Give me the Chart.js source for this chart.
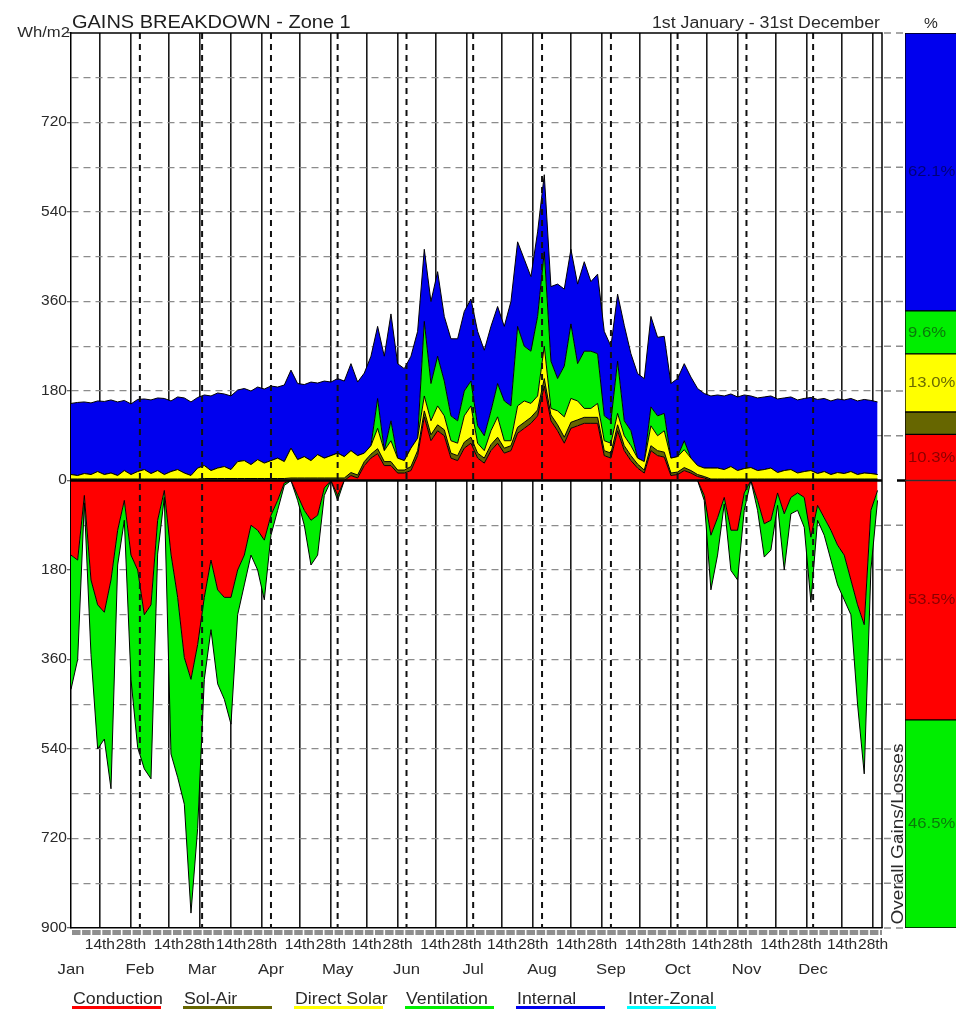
<!DOCTYPE html>
<html>
<head>
<meta charset="utf-8">
<title>Gains Breakdown - Zone 1</title>
<script src="https://cdn.jsdelivr.net/npm/chart.js@4.4.1/dist/chart.umd.min.js"></script>
<style>
  html, body { margin: 0; padding: 0; background: #fff; overflow: hidden; }
  #wrap { position: relative; width: 956px; height: 1009px; overflow: hidden; background: #fff; }
  #main { position: absolute; left: 0; top: 0; width: 956px; height: 1009px; }
  #share { position: absolute; left: 905px; top: 33px; width: 80px; height: 895px; }
</style>
</head>
<body>
<div id="wrap">
  <canvas id="main" width="956" height="1009"></canvas>
  <canvas id="share" width="80" height="895"></canvas>
</div>
<script>
// ---- Day of year (0 = 1st January), sampled every third day ----
const days = [0,3,6,9,12,15,18,21,24,27,30,33,36,39,42,45,48,51,54,57,
  60,63,66,69,72,75,78,81,84,87,90,93,96,99,102,105,108,111,114,117,
  120,123,126,129,132,135,138,141,144,147,150,153,156,159,162,165,168,171,174,177,
  180,183,186,189,192,195,198,201,204,207,210,213,216,219,222,225,228,231,234,237,
  240,243,246,249,252,255,258,261,264,267,270,273,276,279,282,285,288,291,294,297,
  300,303,306,309,312,315,318,321,324,327,330,333,336,339,342,345,348,351,354,357,
  360,363];

// ---- Gains (Wh/m2), bottom of the stack first ----
const conduction = [0,0,0,0,0,0,0,0,0,0, 0,0,0,0,0,0,0,0,0,0,
  0,0,0,0,0,0,0,0,0,0, 0,0,0,0,0,0,0,0,0,0,
  0,0,10,5,30,45,54,30,30,15, 15,20,50,128,80,100,90,45,40,65,
  75,45,35,60,75,55,60,95,105,115, 130,190,120,100,75,105,110,115,115,115,
  50,45,100,60,40,25,15,60,50,47, 10,12,20,15,8,5,0,0,0,0,
  0,0,0,0,0,0,0,0,0,0, 0,0,0,0,0,0,0,0,0,0,
  0,0];
const solAir = [3,3,3,3,3,3,3,3,3,3, 3,3,3,3,3,3,3,3,3,3,
  4,4,4,4,4,4,4,4,4,4, 4,4,4,5,5,5,5,5,5,5,
  5,5,6,6,8,8,10,8,8,6, 6,8,10,12,12,12,12,10,10,12,
  12,10,10,12,12,10,10,12,12,12, 12,15,12,12,12,12,12,12,12,12,
  10,10,12,10,10,8,6,10,10,10, 5,5,6,5,4,3,3,3,3,3,
  3,3,3,3,3,3,3,3,3,3, 3,3,3,3,3,3,3,3,3,3,
  3,3];
const directSolar = [9,7,11,9,15,9,12,7,17,9, 15,19,11,17,9,15,19,12,7,22,
  26,16,21,24,18,34,36,28,38,31, 36,41,34,60,37,43,35,47,40,45,
  50,43,44,39,17,17,41,22,42,24, 19,37,25,30,28,38,28,25,25,53,
  63,20,15,28,41,15,10,43,43,28, 28,65,13,28,41,48,38,18,18,28,
  20,20,23,20,20,12,17,40,30,43, 30,31,36,25,18,17,22,22,19,25,
  17,21,23,17,19,22,13,17,19,12, 15,17,11,15,9,13,11,15,9,12,
  11,9];
const ventilation = [0,0,0,0,0,0,0,0,0,0, 0,0,0,0,0,0,0,0,0,0,
  0,0,0,0,0,0,0,0,0,0, 0,0,0,0,0,0,0,0,0,0,
  0,0,0,0,0,0,60,0,40,0, 0,0,0,150,75,100,70,50,45,50,
  50,35,30,40,67,80,70,160,110,105, 160,190,95,65,102,150,75,115,115,100,
  50,45,105,30,30,0,0,38,40,35, 0,0,18,0,0,0,0,0,0,0,
  0,0,0,0,0,0,0,0,0,0, 0,0,0,0,0,0,0,0,0,0,
  0,0];
const internal = [143,147,144,144,142,147,147,148,141,142, 145,142,148,146,153,142,146,151,148,142,
  142,150,151,146,148,144,145,148,146,149, 150,143,154,157,153,145,158,144,155,148,
  150,152,175,148,161,180,145,190,215,190, 185,185,215,145,165,170,130,155,165,160,
  165,190,172,170,155,150,210,170,175,150, 170,155,150,190,155,150,160,180,140,160,
  170,150,135,192,155,170,167,182,158,155, 150,157,155,163,155,150,145,147,148,146,
  148,148,144,146,146,145,148,146,146,147, 147,147,149,147,148,148,148,147,148,148,
  147,146];
const interZonal = [];

// ---- Losses (Wh/m2, negative) ----
const conductionLoss = [-150,-160,-30,-200,-250,-265,-200,-100,-40,-150, -180,-270,-250,-80,-20,-148,-235,-356,-400,-330,
  -235,-160,-220,-235,-235,-180,-150,-90,-100,-120, -70,-40,-5,0,-30,-60,-80,-70,-15,0,
  -30,0,0,0,0,0,0,0,0,0, 0,0,0,0,0,0,0,0,0,0,
  0,0,0,0,0,0,0,0,0,0, 0,0,0,0,0,0,0,0,0,0,
  0,0,0,0,0,0,0,0,0,0, 0,0,0,0,0,-30,-110,-75,-34,-100,
  -100,-25,0,-40,-87,-80,-25,-67,-34,-25, -34,-114,-50,-75,-100,-130,-150,-200,-250,-290,
  -60,-20];
const ventilationLoss = [-270,-200,-15,-150,-290,-255,-420,-70,-40,-250, -357,-310,-350,-68,-14,-402,-362,-295,-470,-370,
  -165,-140,-189,-205,-255,-90,-60,-60,-80,-120, -40,-20,-5,0,-10,-30,-90,-80,-15,0,
  -10,0,0,0,0,0,0,0,0,0, 0,0,0,0,0,0,0,0,0,0,
  0,0,0,0,0,0,0,0,0,0, 0,0,0,0,0,0,0,0,0,0,
  0,0,0,0,0,0,0,0,0,0, 0,0,0,0,0,-10,-110,-75,-13,-81,
  -100,-35,0,-20,-67,-60,-25,-113,-33,-35, -60,-131,-30,-35,-60,-80,-90,-70,-200,-300,
  -120,-20];

// ---- Overall shares (%) ----
const seriesNames = ['Conduction', 'Sol-Air', 'Direct Solar', 'Ventilation', 'Internal', 'Inter-Zonal'];
const gainShare = [10.3, 5.0, 13.0, 9.6, 62.1, 0];
const lossShare = [53.5, 0, 0, 46.5, 0, 0];

// ---- Axis ticks ----
const monthNames = ['Jan','Feb','Mar','Apr','May','Jun','Jul','Aug','Sep','Oct','Nov','Dec'];
const monthStartDays = [0,31,59,90,120,151,181,212,243,273,304,334];
const day14th = [13,44,72,103,133,164,194,225,256,286,317,347];
const day28th = [27,58,86,117,147,178,208,239,270,300,331,361];
const yLabelValues = [900,720,540,360,180,0,-180,-360,-540,-720,-900];
const yTopLabel = 'Wh/m2';

// ---- Styling ----
const seriesColors = ['#ff0000', '#666600', '#ffff00', '#00ee00', '#0000ee', '#00ffff'];
const shareTextColors = ['#8a0000', '#333300', '#6b6b00', '#0a7a0a', '#00007a', '#007a7a'];
const FONT = '"Liberation Sans", Arial, sans-serif';
const TEXT = '#2a2a2a';
const STRETCH = 1.11;

function stretchText(ctx, text, x, y, o) {
  ctx.save();
  ctx.translate(x, y);
  if (o.rotate) ctx.rotate(o.rotate);
  ctx.scale(o.sx || STRETCH, 1);
  ctx.font = o.font;
  ctx.fillStyle = o.color || TEXT;
  ctx.textAlign = o.align || 'left';
  ctx.textBaseline = o.baseline || 'alphabetic';
  ctx.fillText(text, 0, 0);
  ctx.restore();
}

const gridDays = monthStartDays.concat(day14th, day28th).sort((a, b) => a - b);

// Month-start dashed verticals, drawn over the areas
const decor = {
  id: 'decor',
  afterDatasetsDraw(chart) {
    const { ctx, chartArea: a, scales: { x } } = chart;
    ctx.save();
    ctx.strokeStyle = '#111';
    ctx.lineWidth = 2;
    ctx.setLineDash([6, 5]);
    monthStartDays.forEach(d => {
      if (d === 0) return;
      const px = x.getPixelForValue(d);
      ctx.beginPath();
      ctx.moveTo(px, a.top);
      ctx.lineTo(px, a.bottom);
      ctx.stroke();
    });
    ctx.restore();
  },
  afterDraw(chart) {
    const { ctx, chartArea: a, scales: { x, y } } = chart;
    ctx.save();

    // grid extension towards the share column
    ctx.strokeStyle = '#8c8c8c';
    ctx.lineWidth = 1.3;
    ctx.setLineDash([7, 5]);
    y.ticks.forEach(t => {
      if (t.value === 0) return;
      const py = y.getPixelForValue(t.value);
      ctx.beginPath();
      ctx.moveTo(a.right + 2, py);
      ctx.lineTo(904, py);
      ctx.stroke();
    });
    ctx.setLineDash([]);

    // zero line
    const y0 = y.getPixelForValue(0);
    ctx.strokeStyle = '#000';
    ctx.lineWidth = 2.5;
    ctx.beginPath();
    ctx.moveTo(a.left, y0);
    ctx.lineTo(a.right, y0);
    ctx.moveTo(897, y0);
    ctx.lineTo(905, y0);
    ctx.stroke();

    // frame top / right
    ctx.lineWidth = 1.5;
    ctx.beginPath();
    ctx.moveTo(a.left, a.top);
    ctx.lineTo(a.right, a.top);
    ctx.lineTo(a.right, a.bottom);
    ctx.stroke();

    // day strip under the axis
    ctx.strokeStyle = '#8f8f8f';
    ctx.lineWidth = 5;
    ctx.setLineDash([8.5, 1.6]);
    ctx.beginPath();
    ctx.moveTo(a.left + 1, a.bottom + 4.5);
    ctx.lineTo(a.right, a.bottom + 4.5);
    ctx.stroke();
    ctx.setLineDash([]);
    ctx.restore();

    // y labels
    yLabelValues.forEach(v => {
      const py = y.getPixelForValue(v);
      if (v === 900) {
        stretchText(ctx, yTopLabel, a.left - 1, py, { font: '15px ' + FONT, align: 'right', baseline: 'middle' });
      } else {
        stretchText(ctx, String(Math.abs(v)), a.left - 4, py, { font: '14px ' + FONT, align: 'right', baseline: 'middle' });
      }
    });

    // x labels
    day14th.forEach(d => stretchText(ctx, '14th', x.getPixelForValue(d), a.bottom + 17, { font: '14px ' + FONT, align: 'center', baseline: 'middle' }));
    day28th.forEach(d => stretchText(ctx, '28th', x.getPixelForValue(d), a.bottom + 17, { font: '14px ' + FONT, align: 'center', baseline: 'middle' }));
    monthStartDays.forEach((d, i) => stretchText(ctx, monthNames[i], x.getPixelForValue(d), a.bottom + 42, { font: '15px ' + FONT, align: 'center', baseline: 'middle' }));

    // headings
    stretchText(ctx, 'GAINS BREAKDOWN - Zone 1', a.left + 1, 28, { font: '18px ' + FONT, color: '#1e1e1e' });
    stretchText(ctx, '1st January - 31st December', a.right - 2, 28, { font: '16px ' + FONT, align: 'right' });
    stretchText(ctx, '%', 931, 28, { font: '14px ' + FONT, align: 'center' });

    // vertical caption beside the share column
    stretchText(ctx, 'Overall Gains/Losses', 898, 834, { font: '17px ' + FONT, align: 'center', baseline: 'middle', rotate: -Math.PI / 2, sx: 1.12 });

    // legend with coloured underline
    seriesNames.forEach((name, i) => {
      const lx = 73 + i * 111;
      stretchText(ctx, name, lx, 1004, { font: '16px ' + FONT });
      ctx.fillStyle = seriesColors[i];
      ctx.fillRect(lx - 1, 1006, 89, 3);
    });
  }
};

const lineBase = { borderColor: '#000', borderWidth: 1, pointRadius: 0, tension: 0 };

new Chart(document.getElementById('main'), {
  type: 'line',
  data: {
    labels: days,
    datasets: [
      { ...lineBase, label: seriesNames[0], data: conduction, backgroundColor: seriesColors[0], fill: 'origin', stack: 'gains' },
      { ...lineBase, label: seriesNames[1], data: solAir, backgroundColor: seriesColors[1], fill: '-1', stack: 'gains' },
      { ...lineBase, label: seriesNames[2], data: directSolar, backgroundColor: seriesColors[2], fill: '-1', stack: 'gains' },
      { ...lineBase, label: seriesNames[3], data: ventilation, backgroundColor: seriesColors[3], fill: '-1', stack: 'gains' },
      { ...lineBase, label: seriesNames[4], data: internal, backgroundColor: seriesColors[4], fill: '-1', stack: 'gains' },
      { ...lineBase, label: seriesNames[5], data: interZonal, backgroundColor: seriesColors[5], fill: false, stack: 'gains' },
      { ...lineBase, label: seriesNames[0], data: conductionLoss, backgroundColor: seriesColors[0], fill: 'origin', stack: 'losses' },
      { ...lineBase, label: seriesNames[3], data: ventilationLoss, backgroundColor: seriesColors[3], fill: '-1', stack: 'losses' }
    ]
  },
  options: {
    responsive: false,
    animation: false,
    devicePixelRatio: 1,
    layout: { padding: { left: 0, right: 74, top: 33, bottom: 41 } },
    plugins: { legend: { display: false }, tooltip: { enabled: false }, filler: { propagate: false } },
    scales: {
      x: {
        type: 'linear', min: 0, max: 365, z: 1,
        afterBuildTicks: s => { s.ticks = gridDays.map(v => ({ value: v })); },
        afterFit: s => { s.height = 40; },
        ticks: { display: false },
        grid: {
          drawTicks: false,
          lineWidth: 1.6,
          color: c => (c.tick && monthStartDays.includes(c.tick.value)) ? 'rgba(0,0,0,0)' : '#1a1a1a'
        },
        border: { color: '#000', width: 1.5 }
      },
      y: {
        min: -900, max: 900, stacked: true, z: 1,
        afterFit: s => { s.width = 71; },
        ticks: { display: false, stepSize: 90 },
        grid: {
          lineWidth: 1.3,
          tickLength: 4,
          color: c => (c.tick && (c.tick.value === 0 || Math.abs(c.tick.value) === 900)) ? 'rgba(0,0,0,0)' : '#8c8c8c',
          tickColor: c => (c.tick && c.tick.value % 180 === 0) ? '#666' : 'rgba(0,0,0,0)'
        },
        border: { color: '#000', width: 1.5, dash: [7, 5] }
      }
    }
  },
  plugins: [decor]
});

// ---- Share column ----
const shareLabels = {
  id: 'shareLabels',
  afterDatasetsDraw(chart) {
    const ctx = chart.ctx;
    chart.data.datasets.forEach((ds, i) => {
      const el = chart.getDatasetMeta(i).data[0];
      if (!el) return;
      const h = Math.abs(el.base - el.y);
      if (h < 30) return;
      stretchText(ctx, Math.abs(ds.data[0]).toFixed(1) + '%', 3, (el.y + el.base) / 2,
        { font: '15px ' + FONT, color: ds.textColor, baseline: 'middle' });
    });
  }
};

const shareSets = [];
gainShare.forEach((v, i) => { if (v) shareSets.push({ label: seriesNames[i], data: [v], backgroundColor: seriesColors[i], textColor: shareTextColors[i] }); });
lossShare.forEach((v, i) => { if (v) shareSets.push({ label: seriesNames[i], data: [-v], backgroundColor: seriesColors[i], textColor: shareTextColors[i] }); });

new Chart(document.getElementById('share'), {
  type: 'bar',
  data: {
    labels: ['%'],
    datasets: shareSets.map(s => ({ ...s, borderColor: '#000', borderWidth: 1, borderSkipped: false, stack: 'share', barPercentage: 1, categoryPercentage: 1 }))
  },
  options: {
    responsive: false,
    animation: false,
    devicePixelRatio: 1,
    layout: { padding: 0 },
    plugins: { legend: { display: false }, tooltip: { enabled: false } },
    scales: {
      x: { display: false, stacked: true },
      y: { display: false, stacked: true, min: -100, max: 100 }
    }
  },
  plugins: [shareLabels]
});
</script>
</body>
</html>
